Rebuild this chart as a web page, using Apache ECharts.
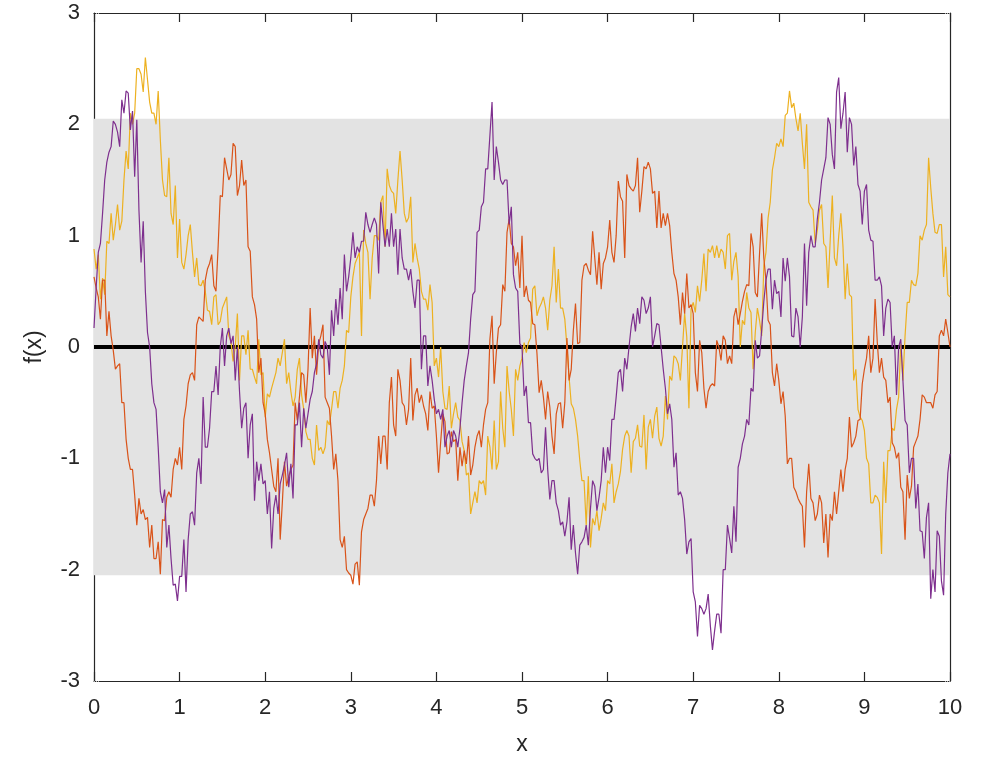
<!DOCTYPE html>
<html>
<head>
<meta charset="utf-8">
<script src="https://cdn.jsdelivr.net/npm/echarts@6/dist/echarts.min.js"></script>
<style>
  html, body { margin: 0; padding: 0; background: #fff; }
  #chart { width: 981px; height: 761px; }
</style>
</head>
<body>
<div id="chart"></div>
<script>
// Sample grid: main samples at x = 0, 0.05, ..., 10 and half-step samples in between
const xStep = 0.05;

// Path 1 (yellow): main samples and half-step samples
const pathYellow = [
  0.88, 0.83, 0.62, 0.95, 1.2, 1.1, 1.05, 1.5, 1.6, 2.0, 2.5, 2.45, 2.6, 2.2, 2.1, 2.3, 1.5, 1.35, 1.2, 1.45,
  1.15, 0.7, 1.0, 0.85, 0.8, 0.55, 0.5, 0.32, 0.45, 0.2, 0.35, 0.45, 0.05, 0.0, -0.3, 0.1, 0.15, -0.2, -0.33, -0.25,
  -0.63, -0.45, -0.3, -0.1, -0.05, -0.33, -0.4, -0.45, -0.1, -0.56, -0.83, -1.0, -0.7, -0.9, -0.9, -0.7, -0.4, -0.55, -0.3, 0.15,
  0.45, 0.75, 0.85, 1.05, 0.85, 0.8, 1.0, 1.3, 0.9, 1.45, 1.38, 1.5, 1.5, 1.12, 1.35, 0.93, 0.7, 0.43, 0.33, 0.4,
  -0.1, 0.0, -0.55, -0.35, -0.6, -0.63, -0.85, -1.15, -1.5, -1.3, -1.2, -1.2, -0.8, -1.1, -1.1, -0.4, -0.9, -0.4, -0.8, -0.3,
  -0.1, -0.05, 0.08, 0.55, 0.35, 0.45, 0.15, 0.55, 0.4, 0.35, 0.25, -0.27, -0.55, -0.8, -1.2, -1.6, -1.8, -1.6, -1.65, -1.4,
  -1.2, -1.05, -1.3, -1.12, -0.8, -0.8, -0.85, -0.7, -0.9, -1.1, -0.65, -0.62, -0.82, -0.8, -0.65, -0.3, -0.1, -0.3, 0.3, -0.55,
  0.4, 0.55, 0.6, 0.5, 0.85, 0.8, 0.8, 0.85, 1.0, 0.6, 0.85, 0.0, 0.2, 0.35, -0.2, 0.35, 0.1, 0.85, 1.3, 1.7,
  1.8, 1.8, 2.1, 2.15, 2.05, 2.1, 1.6, 1.3, 1.23, 1.05, 1.28, 0.9, 0.95, 0.8, 1.0, 0.9, 0.75, 0.45, -0.2, -0.63,
  -0.75, -1.05, -1.4, -1.35, -1.86, -1.4, -0.93, -0.75, -0.45, -0.3, 0.4, 0.6, 0.55, 1.0, 1.05, 1.7, 1.2, 1.02, 1.1, 0.9, 0.45
];
const pathYellowHalf = [
  0.7, 0.43, 0.47, 0.93, 0.96, 1.28, 1.13, 1.76, 2.1, 2.1, 2.5, 2.29, 2.4, 2.1, 2.0, 1.86, 1.36, 1.7, 1.1, 0.8,
  0.76, 0.83, 1.1, 0.63, 0.56, 0.6, 0.33, 0.2, 0.47, 0.23, 0.4, 0.1, -0.13, 0.3, 0.1, -0.07, -0.2, -0.27, 0.07, -0.23,
  -0.42, -0.37, -0.23, -0.17, 0.07, -0.23, -0.53, -0.2, -0.43, -0.76, -0.83, -1.06, -0.93, -0.96, -0.66, -0.56, -0.4, -0.37, -0.17, 0.13,
  0.63, 0.8, 0.1, 0.93, 0.43, 1.0, 0.96, 1.36, 1.6, 1.4, 1.2, 1.76, 1.2, 1.16, 0.76, 0.8, 0.5, 0.43, 0.56, -0.17,
  -0.27, -0.4, -0.56, -0.73, -0.5, -0.66, -0.93, -1.13, -1.4, -1.4, -1.23, -1.33, -0.9, -0.66, -1.03, -0.73, -0.17, -0.56, -0.2, -0.17,
  0.04, 0.04, 0.52, 0.28, 0.39, 0.35, 0.42, 0.9, 0.7, 0.35, 0.0, -0.51, -0.65, -1.02, -1.2, -1.16, -1.54, -1.47, -1.54, -1.47,
  -1.23, -1.4, -1.23, -0.92, -0.75, -1.13, -0.82, -0.89, -0.61, -0.72, -0.82, -0.54, -0.89, -0.44, -0.26, -0.08, -0.15, 0.0, 0.09, 0.34,
  0.31, 0.41, 0.84, 0.88, 0.91, 0.91, 0.88, 0.7, 1.02, 0.77, 0.63, 0.24, 0.49, 0.31, 0.13, 0.24, 0.73, 1.16, 1.59, 1.83,
  1.87, 2.08, 2.3, 2.19, 1.94, 1.83, 2.0, 1.26, 0.93, 1.23, 0.93, 0.53, 1.36, 0.73, 1.2, 0.43, 0.47, -0.3, -0.56, -0.66,
  -1.0, -1.4, -1.33, -1.4, -1.03, -0.93, -0.73, -0.56, 0.03, 0.1, 0.4, 0.56, 0.66, 0.96, 1.1, 1.43, 1.03, 1.1, 0.63, 0.47
];

// Path 2 (red)
const pathRed = [
  0.63, 0.45, 0.6, 0.1, 0.1, -0.2, -0.15, -0.5, -1.0, -1.1, -1.6, -1.5, -1.55, -1.8, -1.9, -1.75, -1.55, -1.35, -1.35, -1.0,
  -0.9, -0.65, -0.33, -0.23, 0.2, 0.25, 0.6, 0.75, 0.55, 0.9, 1.35, 1.6, 1.55, 1.8, 1.45, 1.45, 0.9, 0.45, 0.25, -0.1,
  -0.6, -0.95, -1.25, -1.0, -1.4, -1.25, -1.1, -0.5, -0.45, -0.25, -0.2, -0.1, -0.25, 0.1, -0.45, -0.55, -1.1, -1.2, -1.8, -2.0,
  -2.05, -1.95, -2.14, -1.55, -1.45, -1.33, -1.2, -1.05, -0.8, -0.5, -0.7, -0.2, -0.5, -0.7, -0.1, -0.43, -0.5, -0.53, -0.75, -0.55,
  -0.8, -0.85, -0.67, -0.95, -0.85, -1.2, -1.07, -1.05, -1.15, -0.9, -0.75, -0.7, -0.5, 0.28, -0.05, 0.2, 0.5, 1.15, 0.9, 0.85,
  1.0, 0.55, 0.4, 0.2, -0.41, -0.45, -0.4, -0.8, -0.6, -0.5, -0.5, -0.3, 0.15, 0.03, 0.6, 0.75, 0.65, 0.8, 0.85, 0.75,
  0.9, 0.85, 1.0, 1.35, 0.8, 1.45, 1.4, 1.7, 1.4, 1.6, 1.6, 1.4, 1.4, 1.2, 1.2, 0.85, 0.6, 0.2, 0.3, 0.35,
  0.3, -0.4, -0.05, -0.55, -0.35, -0.35, 0.0, 0.1, -0.15, -0.15, 0.35, 0.3, 0.5, 0.55, 0.9, 0.45, 1.2, 0.6, 0.2, -0.35,
  -0.3, -0.4, -1.05, -1.0, -1.3, -1.4, -1.8, -1.05, -1.4, -1.5, -1.4, -1.5, -1.5, -1.3, -1.3, -1.3, -1.0, -0.9, -0.8, -0.65,
  -0.2, 0.1, -0.1, 0.05, -0.1, -0.3, -0.45, -0.9, -0.95, -1.3, -1.15, -1.25, -0.85, -0.65, -0.45, -0.5, -0.55, -0.4, 0.15, 0.25, 0.0
];
const pathRedHalf = [
  0.53, 0.25, 0.6, 0.32, -0.03, -0.17, -0.5, -0.83, -1.1, -1.33, -1.36, -1.46, -1.53, -1.6, -1.9, -2.04, -1.56, -1.3, -1.1, -1.06,
  -1.1, -0.53, -0.25, -0.3, 0.27, 0.23, 0.7, 0.83, 0.5, 1.36, 1.7, 1.5, 1.83, 1.36, 1.68, 1.5, 0.86, 0.38, -0.23, -0.5,
  -0.83, -1.1, -1.3, -1.73, -1.03, -1.16, -1.06, -0.66, -0.23, -0.5, 0.35, 0.1, 0.03, 0.2, -0.5, -0.8, -0.96, -1.73, -1.7, -2.03,
  -2.13, -1.93, -1.66, -1.5, -1.33, -1.43, -0.8, -0.8, -1.1, -0.27, -0.8, -0.3, -0.53, -0.56, -0.66, -0.37, -0.43, -0.6, -0.4, -0.53,
  -1.13, -0.6, -0.96, -0.76, -0.83, -0.9, -0.93, -0.8, -1.06, -0.8, -0.9, -0.56, 0.07, -0.33, 0.17, 0.56, 1.03, 0.93, 0.73, 0.53,
  0.45, 0.42, 0.21, -0.06, -0.3, -0.65, -0.54, -0.96, -0.51, -0.73, 0.08, -0.2, 0.39, 0.04, 0.73, 0.69, 1.04, 0.56, 0.52, 0.8,
  1.14, 0.76, 1.49, 1.31, 1.55, 1.42, 1.45, 1.21, 1.62, 1.66, 1.38, 1.07, 1.07, 1.09, 1.09, 0.66, 0.45, 0.49, 0.66, 0.38,
  -0.23, 0.06, -0.37, -0.4, -0.33, 0.06, -0.12, 0.06, -0.08, 0.27, 0.2, 0.41, 0.56, 1.02, 0.49, 0.84, 0.8, 0.24, -0.23, -0.15,
  -0.51, -0.62, -1.0, -1.26, -1.36, -1.43, -1.3, -1.36, -1.56, -1.33, -1.76, -1.89, -1.56, -1.5, -1.1, -1.1, -0.63, -0.86, -0.66, -0.33,
  -0.1, -0.23, 0.43, -0.23, -0.27, -0.5, -0.86, -1.0, -1.26, -1.73, -1.36, -0.9, -0.8, -0.43, -0.5, -0.5, -0.43, 0.1, 0.1, 0.13
];

// Path 3 (purple)
const pathPurple = [
  0.17, 0.85, 1.2, 1.66, 1.8, 2.0, 1.8, 2.1, 2.28, 2.12, 2.04, 0.76, 0.5, 0.0, -0.5, -0.9, -1.4, -1.8, -1.9, -2.13,
  -2.06, -1.73, -1.73, -1.48, -1.13, -1.23, -0.9, -0.73, -0.4, -0.43, 0.17, 0.1, 0.03, -0.3, -0.4, -0.55, -1.0, -0.6, -1.03, -1.05,
  -1.2, -1.3, -1.45, -1.5, -1.15, -0.95, -1.05, -0.7, -0.5, -0.55, -0.6, -0.4, -0.15, -0.07, 0.05, -0.25, 0.1, 0.2, 0.25, 0.5,
  0.8, 0.8, 0.85, 0.95, 1.1, 1.1, 1.1, 1.3, 0.9, 0.9, 0.9, 0.65, 0.8, 0.7, 0.7, 0.35, 0.6, 0.1, -0.35, -0.3,
  -0.6, -0.65, -0.9, -0.75, -0.75, -0.9, -0.5, -0.17, 0.25, 0.5, 1.05, 1.3, 1.6, 2.2, 1.8, 1.5, 1.5, 1.1, 0.65, 0.5,
  0.0, -0.35, -0.68, -1.0, -1.0, -1.1, -1.1, -1.2, -1.4, -1.6, -1.7, -1.35, -1.6, -2.04, -1.75, -1.6, -1.45, -1.25, -1.35, -0.9,
  -0.9, -0.65, -0.45, -0.2, -0.1, 0.0, 0.3, 0.35, 0.45, 0.3, 0.45, 0.1, 0.2, -0.2, -0.6, -0.65, -0.95, -1.3, -1.55, -1.75,
  -2.2, -2.6, -2.35, -2.35, -2.5, -2.55, -2.4, -2.0, -1.6, -1.85, -1.75, -1.0, -0.8, -0.7, -0.4, -0.1, 0.15, 0.6, 0.7, 0.6,
  0.5, 0.8, 0.8, 0.1, 0.35, 0.0, 0.93, 0.85, 0.9, 1.15, 1.5, 1.7, 2.0, 1.6, 2.42, 2.1, 1.75, 2.0, 1.8, 1.4,
  1.4, 1.05, 0.95, 0.6, 0.55, 0.35, 0.4, 0.1, 0.0, -0.3, -0.7, -1.0, -1.45, -1.65, -1.9, -1.4, -2.0, -1.65, -2.1, -1.5, -0.96
];
const pathPurpleHalf = [
  0.53, 0.93, 1.5, 1.75, 2.03, 1.93, 2.22, 2.3, 1.95, 1.53, 1.23, 1.13, 0.13, -0.33, -0.56, -1.3, -1.28, -1.6, -2.14, -2.28,
  -2.06, -2.2, -1.5, -1.6, -1.0, -0.45, -0.9, -0.4, -0.17, 0.0, -0.17, 0.17, 0.1, 0.0, -0.73, -0.5, -0.7, -1.38, -1.2, -1.23,
  -1.5, -1.81, -1.33, -1.23, -1.06, -1.26, -1.36, -0.7, -0.9, -0.73, -0.47, -0.23, 0.07, -0.1, 0.0, 0.33, 0.43, 0.53, 0.83, 0.63,
  1.03, 0.9, 0.95, 1.21, 1.03, 1.16, 0.66, 1.1, 1.06, 1.2, 1.06, 1.06, 0.7, 0.6, 0.5, 0.6, -0.2, 0.1, -0.17, -0.47,
  -0.56, -0.56, -0.8, -0.9, -0.8, -0.73, -0.3, -0.05, 0.47, 1.03, 1.26, 1.6, 1.9, 1.5, 1.66, 1.46, 1.5, 1.26, 0.53, 0.03,
  -0.44, -0.68, -0.96, -1.02, -1.13, -0.72, -1.37, -1.2, -1.47, -1.57, -1.57, -1.82, -1.85, -1.78, -1.71, -1.78, -1.2, -1.47, -1.2, -1.13,
  -1.02, -0.65, -0.23, -0.4, -0.2, 0.18, 0.14, 0.21, 0.42, 0.35, 0.0, 0.21, 0.0, -0.37, -0.51, -1.08, -1.33, -1.36, -1.86, -1.72,
  -2.29, -2.32, -2.4, -2.22, -2.72, -2.4, -2.57, -2.0, -1.72, -1.43, -1.08, -0.87, -0.65, -0.37, 0.06, -0.08, 0.41, 0.7, 0.34, 0.48,
  0.27, 0.59, 0.63, 0.09, 0.27, 0.27, 0.37, 1.0, 0.9, 1.3, 1.6, 2.06, 1.73, 2.29, 1.96, 2.29, 2.06, 1.63, 1.46, 1.1,
  1.46, 0.96, 0.6, 0.63, 0.1, 0.43, 0.0, -0.43, 0.07, -0.66, -1.13, -1.0, -1.23, -1.66, -1.53, -2.26, -2.2, -1.7, -2.23, -1.13
];

// Shaded confidence band (+/- limit) and the zero mean line
const bandLimit = 2.05;
const meanValue = 0;

const xTicks = [0, 1, 2, 3, 4, 5, 6, 7, 8, 9, 10];
const yTicks = [-3, -2, -1, 0, 1, 2, 3];

// Merge main and half-step samples into [x, y] pairs in x order
function toPairs(main, half) {
  const out = [];
  for (let i = 0; i < main.length; i++) {
    out.push([+(i * xStep).toFixed(3), main[i]]);
    if (i < half.length) out.push([+((i + 0.5) * xStep).toFixed(3), half[i]]);
  }
  return out;
}

const font = '"Liberation Sans", Arial, Helvetica, sans-serif';
const axisColor = '#262626';

const chart = echarts.init(document.getElementById('chart'), null, { renderer: 'canvas' });

const commonX = {
  type: 'value', min: xTicks[0], max: xTicks[xTicks.length - 1], interval: 1,
  splitLine: { show: false },
  axisLine: { show: true, onZero: false, lineStyle: { color: axisColor, width: 1.2 } },
  axisTick: { show: true, inside: true, length: 9, lineStyle: { color: axisColor, width: 1.2 } }
};
const commonY = {
  type: 'value', min: yTicks[0], max: yTicks[yTicks.length - 1], interval: 1,
  splitLine: { show: false },
  axisLine: { show: true, onZero: false, lineStyle: { color: axisColor, width: 1.2 } },
  axisTick: { show: true, inside: true, length: 6, lineStyle: { color: '#b0b0b0', width: 1, type: 'dotted' } }
};

chart.setOption({
  animation: false,
  backgroundColor: '#ffffff',
  grid: { left: 94, right: 31, top: 13, bottom: 80, containLabel: false },
  xAxis: [
    Object.assign({}, commonX, {
      position: 'bottom',
      name: 'x', nameLocation: 'middle', nameGap: 52,
      nameTextStyle: { fontFamily: font, fontSize: 23, color: axisColor },
      axisLabel: { show: true, fontFamily: font, fontSize: 22, color: axisColor, margin: 16 }
    }),
    Object.assign({}, commonX, { position: 'top', axisLabel: { show: false } })
  ],
  yAxis: [
    Object.assign({}, commonY, {
      position: 'left',
      name: 'f(x)', nameLocation: 'middle', nameGap: 48, nameRotate: 90,
      nameTextStyle: { fontFamily: font, fontSize: 23, color: axisColor },
      axisLabel: { show: true, fontFamily: font, fontSize: 22, color: axisColor, margin: 14,
        formatter: v => String(v) }
    }),
    Object.assign({}, commonY, { position: 'right', axisLabel: { show: false } })
  ],
  series: [
    {
      name: 'band', type: 'line', data: [], silent: true, z: 1,
      markArea: {
        silent: true,
        itemStyle: { color: '#e3e3e3' },
        data: [[{ yAxis: -bandLimit }, { yAxis: bandLimit }]]
      }
    },
    {
      name: 'mean', type: 'line', z: 2, silent: true, symbol: 'none',
      data: [[xTicks[0], meanValue], [xTicks[xTicks.length - 1], meanValue]],
      lineStyle: { color: '#000000', width: 4 }
    },
    {
      name: 'path 1', type: 'line', z: 3, symbol: 'none', data: toPairs(pathYellow, pathYellowHalf),
      lineStyle: { color: '#EDB120', width: 1.2 }
    },
    {
      name: 'path 2', type: 'line', z: 3, symbol: 'none', data: toPairs(pathRed, pathRedHalf),
      lineStyle: { color: '#D95319', width: 1.2 }
    },
    {
      name: 'path 3', type: 'line', z: 3, symbol: 'none', data: toPairs(pathPurple, pathPurpleHalf),
      lineStyle: { color: '#7E2F8E', width: 1.2 }
    }
  ]
});
</script>
</body>
</html>
